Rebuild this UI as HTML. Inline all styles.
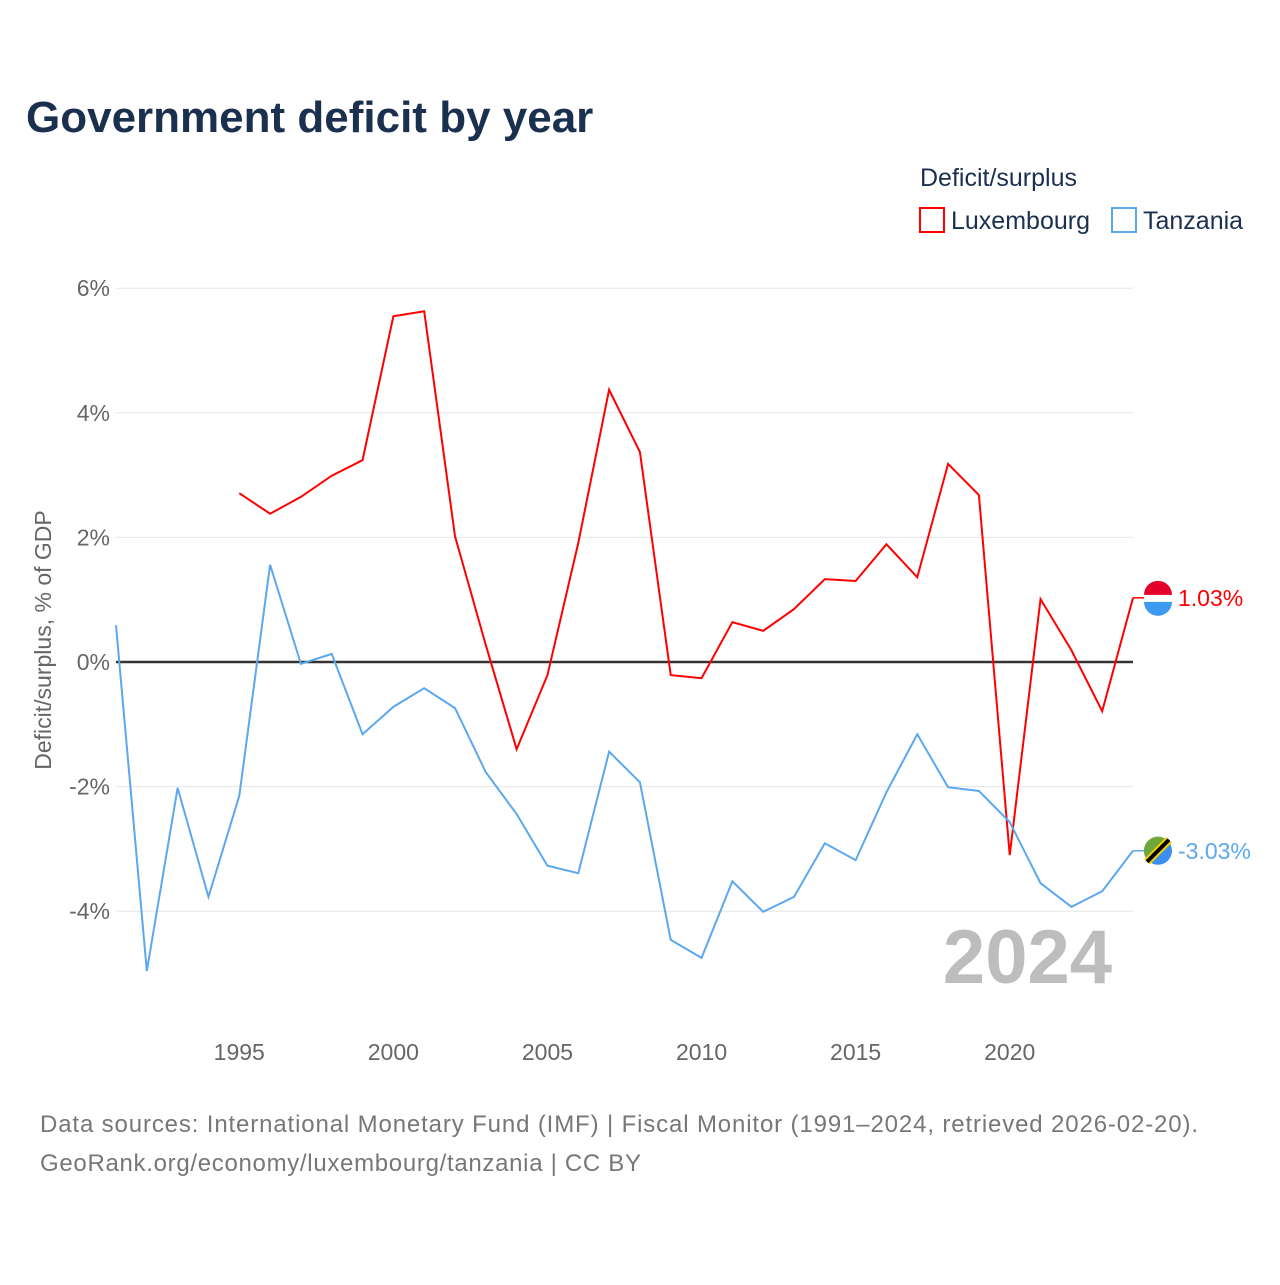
<!DOCTYPE html>
<html><head><meta charset="utf-8">
<style>
body{margin:0;background:#fff;font-family:"Liberation Sans",sans-serif;}
svg text{font-family:"Liberation Sans",sans-serif;}
</style></head>
<body>
<svg width="1280" height="1280" viewBox="0 0 1280 1280">
<text x="26" y="132" font-size="44" font-weight="bold" fill="#1b2f4f">Government deficit by year</text>
<text x="920" y="186" font-size="25" fill="#1b2f4f">Deficit/surplus</text>
<g>
<rect x="920" y="208" width="24" height="24" fill="none" stroke="#ff0000" stroke-width="2"/>
<text x="951" y="229" font-size="25" fill="#1b2f4f">Luxembourg</text></g>
<g>
<rect x="1112" y="208" width="24" height="24" fill="none" stroke="#5ba8ee" stroke-width="2"/>
<text x="1143" y="229" font-size="25" fill="#1b2f4f">Tanzania</text></g>
<text transform="translate(51,640) rotate(-90)" text-anchor="middle" font-size="23" fill="#666">Deficit/surplus, % of GDP</text>
<g id="grid"></g><g id="xt"></g>
<text x="1112" y="983" text-anchor="end" font-size="76" font-weight="bold" fill="#bdbdbd">2024</text>
<g id="series"></g>
<text x="40" y="1132" font-size="24" fill="#777" textLength="1158">Data sources: International Monetary Fund (IMF) | Fiscal Monitor (1991–2024, retrieved 2026-02-20).</text>
<text x="40" y="1171" font-size="24" fill="#777" textLength="601">GeoRank.org/economy/luxembourg/tanzania | CC BY</text>
</svg>
<script>
const yTicks=[-4,-2,0,2,4,6];
const xTicks=[1995,2000,2005,2010,2015,2020];
const luxYears=[1995,1996,1997,1998,1999,2000,2001,2002,2003,2004,2005,2006,2007,2008,2009,2010,2011,2012,2013,2014,2015,2016,2017,2018,2019,2020,2021,2022,2023,2024];
const luxValues=[2.71,2.38,2.65,2.99,3.24,5.55,5.63,2.02,0.27,-1.40,-0.21,1.91,4.37,3.37,-0.21,-0.26,0.64,0.50,0.85,1.33,1.30,1.89,1.36,3.18,2.68,-3.10,1.01,0.19,-0.79,1.03];
const tzaYears=[1991,1992,1993,1994,1995,1996,1997,1998,1999,2000,2001,2002,2003,2004,2005,2006,2007,2008,2009,2010,2011,2012,2013,2014,2015,2016,2017,2018,2019,2020,2021,2022,2023,2024];
const tzaValues=[0.59,-4.96,-2.02,-3.77,-2.15,1.56,-0.03,0.13,-1.16,-0.72,-0.42,-0.74,-1.77,-2.44,-3.27,-3.39,-1.44,-1.93,-4.46,-4.75,-3.52,-4.01,-3.77,-2.91,-3.18,-2.09,-1.16,-2.01,-2.07,-2.57,-3.55,-3.93,-3.68,-3.03];
const NS="http://www.w3.org/2000/svg";
const X=yr=>116+(yr-1991)*(1133-116)/33;
const Y=v=>662-v*62.3;
function mk(t,a,p){const e=document.createElementNS(NS,t);for(const k in a)e.setAttribute(k,a[k]);p.appendChild(e);return e;}
const g=document.getElementById('grid');
yTicks.forEach(t=>{
 const l=mk('line',{x1:116,x2:1133,y1:Y(t),y2:Y(t),stroke:t===0?'#333':'#e6e6e6','stroke-width':t===0?2.5:1},g);
 
 
 const tx=mk('text',{x:110,y:Y(t)+8,'text-anchor':'end','font-size':23,fill:'#666'},g);
 tx.textContent=t+'%';
 
 
});
const xt=document.getElementById('xt');
xTicks.forEach(t=>{
 const tx=mk('text',{x:X(t),y:1060,'text-anchor':'middle','font-size':23,fill:'#666'},xt);
 tx.textContent=t;
 
 
});
const s=document.getElementById('series');
function line(ys,vs,c,name){
 const p=mk('polyline',{points:ys.map((y,i)=>X(y)+','+Y(vs[i])).join(' '),fill:'none',stroke:c,'stroke-width':2},s);
 
 
 const lv=vs[vs.length-1],ly=Y(lv);
 mk('line',{x1:1133,x2:1145,y1:ly,y2:ly,stroke:c,'stroke-width':1.5},s);
 const tx=mk('text',{x:1178,y:ly+8,'font-size':23,fill:c},s);
 tx.textContent=lv.toFixed(2)+'%';
 
 
 return ly;
}
const l1=line(luxYears,luxValues,'#ff0000','luxembourg-line');
const l2=line(tzaYears,tzaValues,'#5ba8ee','tanzania-line');
const f1=mk('g',{},s);


const cy1=l1;
mk('circle',{cx:1158,cy:cy1,r:14,fill:'#fff'},f1);
mk('path',{d:`M1144 ${cy1-3} A14 14 0 0 1 1172 ${cy1-3} Z`,fill:'#e4002b'},f1);
mk('path',{d:`M1144 ${cy1+4} A14 14 0 0 0 1172 ${cy1+4} Z`,fill:'#3c9bf0'},f1);
const f2=mk('g',{},s);


mk('circle',{cx:1158,cy:l2,r:14,fill:'#3a8ff0'},f2);
mk('path',{d:`M1148 ${l2+10} A14 14 0 0 1 1168 ${l2-10} Z`,fill:'#6fa83a'},f2);
mk('line',{x1:1147,y1:l2+11,x2:1169,y2:l2-11,stroke:'#f5d000','stroke-width':8},f2);
mk('line',{x1:1147,y1:l2+11,x2:1169,y2:l2-11,stroke:'#000','stroke-width':4},f2);
</script>
</body></html>
